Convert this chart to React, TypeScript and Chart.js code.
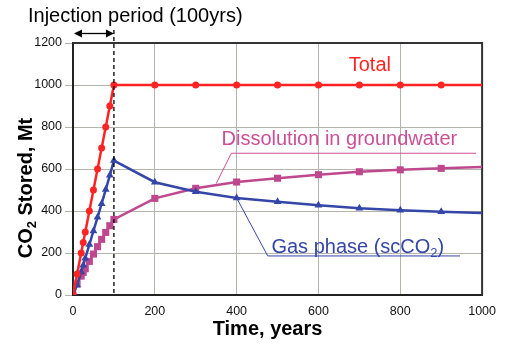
import React, { useEffect, useRef } from "react";
import { Chart, registerables } from "chart.js";

Chart.register(...registerables);

const years = [0, 10, 20, 25, 30, 40, 50, 60, 70, 80, 90, 100, 200, 300, 400, 500, 600, 700, 800, 900, 1000];
const totalStored = [0, 100, 200, 250, 300, 400, 500, 600, 700, 800, 900, 1000, 1000, 1000, 1000, 1000, 1000, 1000, 1000, 1000, 1000];
const dissolved = [0, 52, 90, 108, 125, 160, 195, 230, 265, 298, 330, 360, 460, 508, 538, 556, 573, 587, 596, 603, 609];
const gasPhase = [0, 48, 110, 142, 175, 240, 305, 370, 435, 502, 570, 640, 537, 492, 462, 444, 427, 413, 404, 397, 391];

const yTicks = [0, 200, 400, 600, 800, 1000, 1200];
const xTicks = [0, 200, 400, 600, 800, 1000];

const RED = "#ff2424";
const BLUE = "#3446a8";
const PINK = "#bf478d";
const PINK_TEXT = "#cc4e95";
const FONT = "'Liberation Sans', Arial, sans-serif";

const toPoints = (ys: number[]) => years.map((x, i) => ({ x, y: ys[i] }));
const radii = (r: number) => years.map((_, i) => (i === years.length - 1 ? 0 : r));

const annotations = {
  id: "annotations",
  beforeDatasetsDraw(chart: any) {
    const { ctx, chartArea } = chart;
    ctx.save();
    ctx.strokeStyle = "#333";
    ctx.lineWidth = 2;
    ctx.beginPath();
    ctx.moveTo(chartArea.left, chartArea.top);
    ctx.lineTo(chartArea.right, chartArea.top);
    ctx.lineTo(chartArea.right, chartArea.bottom);
    ctx.stroke();
    ctx.restore();
  },
  afterDraw(chart: any) {
    const { ctx, chartArea } = chart;
    const xs = chart.scales.x;
    const ys = chart.scales.y;
    const px = (v: number) => xs.getPixelForValue(v);
    const py = (v: number) => ys.getPixelForValue(v);
    ctx.save();

    // injection period dashed line & arrow
    const x0 = px(0) + 1;
    const x100 = px(100);
    ctx.strokeStyle = "#000";
    ctx.lineWidth = 1.3;
    ctx.setLineDash([4, 3]);
    ctx.beginPath();
    ctx.moveTo(x100, 30);
    ctx.lineTo(x100, chartArea.bottom);
    ctx.stroke();
    ctx.setLineDash([]);
    const ay = 33.5;
    ctx.lineWidth = 1.3;
    ctx.beginPath();
    ctx.moveTo(x0 + 4, ay);
    ctx.lineTo(x100 - 4, ay);
    ctx.stroke();
    ctx.fillStyle = "#000";
    ctx.beginPath();
    ctx.moveTo(x0, ay);
    ctx.lineTo(x0 + 8, ay - 4);
    ctx.lineTo(x0 + 8, ay + 4);
    ctx.closePath();
    ctx.fill();
    ctx.beginPath();
    ctx.moveTo(x100, ay);
    ctx.lineTo(x100 - 8, ay - 4);
    ctx.lineTo(x100 - 8, ay + 4);
    ctx.closePath();
    ctx.fill();

    ctx.textBaseline = "alphabetic";
    ctx.textAlign = "left";
    ctx.fillStyle = "#000";
    ctx.font = `20px ${FONT}`;
    ctx.fillText("Injection period (100yrs)", 28, 22);

    // Total
    ctx.fillStyle = RED;
    ctx.fillText("Total", px(674), py(1067));

    // Dissolution
    ctx.fillStyle = PINK_TEXT;
    ctx.fillText("Dissolution in groundwater", px(363), py(714));
    ctx.strokeStyle = PINK_TEXT;
    ctx.lineWidth = 1;
    ctx.beginPath();
    ctx.moveTo(px(985), py(675));
    ctx.lineTo(px(387), py(675));
    ctx.lineTo(px(350), py(530));
    ctx.stroke();

    // Gas phase
    ctx.fillStyle = BLUE;
    const gx = px(485);
    const gy = py(201);
    const part1 = "Gas phase (scCO";
    ctx.fillText(part1, gx, gy);
    let w = ctx.measureText(part1).width;
    ctx.font = `13px ${FONT}`;
    ctx.fillText("2", gx + w, gy + 4);
    w += ctx.measureText("2").width;
    ctx.font = `20px ${FONT}`;
    ctx.fillText(")", gx + w, gy);
    ctx.strokeStyle = BLUE;
    ctx.beginPath();
    ctx.moveTo(px(946), py(186));
    ctx.lineTo(px(476), py(186));
    ctx.lineTo(px(400), py(462));
    ctx.stroke();

    // axis titles
    ctx.fillStyle = "#000";
    ctx.font = `bold 20px ${FONT}`;
    ctx.textAlign = "center";
    ctx.fillText("Time, years", (chartArea.left + chartArea.right) / 2 - 10, 335);

    ctx.textAlign = "left";
    ctx.translate(32, 188);
    ctx.rotate(-Math.PI / 2);
    const big = `bold 20px ${FONT}`;
    const small = `bold 13px ${FONT}`;
    ctx.font = big;
    const wa = ctx.measureText("CO").width;
    const wc = ctx.measureText(" Stored, Mt").width;
    ctx.font = small;
    const wb = ctx.measureText("2").width;
    const total = wa + wb + wc;
    let sx = -total / 2;
    ctx.font = big;
    ctx.fillText("CO", sx, 0);
    sx += wa;
    ctx.font = small;
    ctx.fillText("2", sx, 4);
    sx += wb;
    ctx.font = big;
    ctx.fillText(" Stored, Mt", sx, 0);
    ctx.restore();
  },
};

export default function App() {
  const ref = useRef<HTMLCanvasElement>(null);
  useEffect(() => {
    if (!ref.current) return;
    const chart = new Chart(ref.current, {
      type: "line",
      data: {
        datasets: [
          {
            label: "Total",
            data: toPoints(totalStored),
            borderColor: RED,
            backgroundColor: RED,
            borderWidth: 2.5,
            pointStyle: "circle",
            pointRadius: radii(3.5),
            pointBorderWidth: 0,
          },
          {
            label: "Gas phase (scCO2)",
            data: toPoints(gasPhase),
            borderColor: BLUE,
            backgroundColor: BLUE,
            borderWidth: 2.5,
            pointStyle: "triangle",
            pointRadius: radii(4.5),
            pointBorderWidth: 0,
          },
          {
            label: "Dissolution in groundwater",
            data: toPoints(dissolved),
            borderColor: PINK,
            backgroundColor: PINK,
            borderWidth: 2.5,
            pointStyle: "rect",
            pointRadius: radii(5),
            pointBorderWidth: 0,
          },
        ],
      },
      options: {
        animation: false,
        responsive: false,
        layout: { padding: { top: 43, right: 22, left: 0, bottom: 0 } },
        plugins: { legend: { display: false }, tooltip: { enabled: false }, title: { display: false } },
        scales: {
          x: {
            type: "linear",
            min: 0,
            max: 1000,
            afterFit: (s: any) => {
              s.height = 49;
            },
            afterBuildTicks: (s: any) => {
              s.ticks = xTicks.map((v) => ({ value: v }));
            },
            grid: { color: "#b4b4ac", lineWidth: 1, drawTicks: false },
            border: { display: true, color: "#222", width: 2 },
            ticks: {
              color: "#111",
              font: { family: FONT, size: 12.5 },
              padding: 9,
              maxRotation: 0,
              callback: (v: any) => String(v),
            },
          },
          y: {
            type: "linear",
            min: 0,
            max: 1200,
            afterFit: (s: any) => {
              s.width = 73;
            },
            afterBuildTicks: (s: any) => {
              s.ticks = yTicks.map((v) => ({ value: v }));
            },
            grid: { color: "#b4b4ac", lineWidth: 1, drawTicks: true, tickLength: 8 },
            border: { display: true, color: "#222", width: 2 },
            ticks: {
              color: "#111",
              font: { family: FONT, size: 12.5 },
              padding: 3,
              callback: (v: any) => String(v),
            },
          },
        },
      },
      plugins: [annotations],
    });
    return () => chart.destroy();
  }, []);
  return (
    <div style={{ position: "fixed", left: 0, top: 0, width: 505, height: 344, background: "#fff" }}>
      <canvas ref={ref} width={505} height={344} style={{ display: "block" }} />
    </div>
  );
}
